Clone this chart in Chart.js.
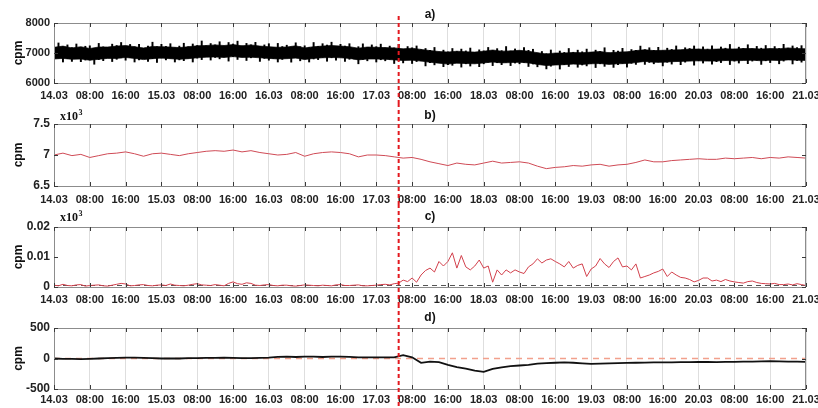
<!DOCTYPE html>
<html>
<head>
<meta charset="utf-8">
<script src="https://cdn.jsdelivr.net/npm/chart.js@4.4.0/dist/chart.umd.min.js"></script>
<style>
  html, body { margin: 0; padding: 0; background: #fff; }
  #wrap { position: relative; width: 818px; height: 408px; overflow: hidden; }
  canvas { position: absolute; left: 0; }
</style>
</head>
<body>
<div id="wrap">
  <canvas id="ca" width="818" height="103" style="top:0"></canvas>
  <canvas id="cb" width="818" height="101" style="top:103px"></canvas>
  <canvas id="cc" width="818" height="100" style="top:204px"></canvas>
  <canvas id="cd" width="818" height="104" style="top:304px"></canvas>
</div>
<script>
// time axis: hours from 14.03 00:00, one tick every 8 h
const xTickLabels = ['14.03','08:00','16:00','15.03','08:00','16:00','16.03','08:00','16:00','17.03','08:00','16:00',
                     '18.03','08:00','16:00','19.03','08:00','16:00','20.03','08:00','16:00','21.03'];
const eventHour = 77;     // red dashed marker (17.03 ~05:00)

// a) raw count rate (cpm): dense core of the trace every 2 h ...
const aCoreStep = 2;
const aCoreUpper = [7190,7230,7170,7210,7150,7200,7200,7230,7250,7210,
                    7170,7220,7210,7200,7180,7210,7240,7250,7270,7250,
                    7280,7240,7270,7230,7210,7190,7200,7240,7170,7210,
                    7230,7250,7230,7210,7160,7200,7190,7180,7170,7140,
                    7160,7120,7080,7050,7030,7060,7040,7030,7060,7100,
                    7060,7070,7090,7060,7010,6970,7000,7000,7020,7010,
                    7030,7050,7010,7030,7040,7080,7110,7080,7090,7100,
                    7110,7130,7130,7120,7130,7140,7130,7150,7150,7130,
                    7150,7140,7170,7150,7140];
const aCoreLower = [6800,6820,6790,6800,6760,6790,6820,6820,6850,6820,
                    6780,6810,6830,6810,6790,6810,6840,6860,6870,6850,
                    6880,6850,6860,6840,6820,6800,6810,6830,6780,6820,
                    6840,6850,6840,6820,6770,6800,6800,6790,6770,6750,
                    6760,6730,6690,6660,6630,6660,6650,6640,6670,6700,
                    6670,6680,6690,6670,6620,6580,6600,6610,6630,6620,
                    6640,6650,6620,6640,6650,6680,6720,6690,6690,6710,
                    6720,6730,6740,6730,6730,6750,6740,6750,6760,6740,
                    6760,6750,6770,6760,6750];
// ... and hourly min / max of the spikes
const aPeakStep = 1;
const aPeakHigh = [7210,7335,7200,7270,7180,7300,7160,7225,7240,7155,7320,7205,
                   7180,7295,7250,7350,7225,7285,7210,7290,7140,7230,7360,7210,
                   7290,7220,7310,7170,7230,7325,7210,7300,7250,7400,7240,7315,
                   7270,7375,7230,7350,7300,7395,7230,7320,7270,7355,7200,7270,
                   7310,7190,7320,7215,7260,7195,7340,7210,7240,7180,7350,7220,
                   7310,7265,7360,7215,7290,7230,7310,7155,7210,7305,7190,7270,
                   7210,7295,7170,7230,7170,7290,7120,7215,7170,7235,7110,7150,
                   7090,7185,7030,7095,7040,7150,7050,7130,7070,7165,7010,7105,
                   7070,7185,7080,7145,7080,7215,7070,7135,7060,7180,7090,7125,
                   7000,7050,6980,7100,6970,7065,7020,7150,7020,7095,7040,7130,
                   7000,7095,7050,7175,7000,7090,7060,7155,7020,7115,7090,7230,
                   7110,7175,7090,7190,7070,7160,7120,7235,7090,7175,7150,7235,
                   7130,7205,7130,7240,7110,7200,7160,7285,7130,7195,7150,7275,
                   7140,7220,7160,7250,7130,7215,7150,7290,7160,7235,7180,7245,
                   7150];
const aPeakLow = [6770,6835,6700,6810,6720,6840,6710,6765,6770,6625,6780,6745,
                  6850,6715,6790,6840,6760,6855,6700,6770,6810,6720,6810,6685,
                  6830,6770,6830,6700,6770,6745,6830,6700,6830,6780,6880,6765,
                  6850,6805,6870,6730,6880,6785,6880,6750,6840,6875,6720,6820,
                  6760,6820,6700,6785,6840,6695,6840,6740,6800,6700,6800,6780,
                  6850,6725,6840,6765,6870,6720,6790,6805,6640,6785,6740,6820,
                  6700,6775,6740,6790,6650,6750,6670,6785,6650,6715,6740,6570,
                  6680,6605,6680,6545,6610,6590,6680,6530,6640,6565,6670,6545,
                  6640,6695,6580,6675,6610,6695,6580,6665,6640,6690,6550,6635,
                  6540,6630,6470,6560,6610,6465,6610,6550,6650,6525,6600,6570,
                  6650,6515,6640,6555,6650,6520,6610,6655,6530,6655,6620,6720,
                  6620,6685,6640,6700,6570,6690,6630,6745,6610,6695,6740,6595,
                  6740,6665,6750,6630,6710,6680,6760,6615,6730,6665,6780,6645,
                  6730,6760,6620,6740,6680,6785,6640,6730,6780,6635,6750,6695,
                  6750];

// b) smoothed count rate (x10^3 cpm), every 2 h
const bStep = 2;
const bValues = [7.00,7.03,6.99,7.01,6.96,6.99,7.02,7.03,7.05,7.02,
                 6.98,7.02,7.03,7.01,6.99,7.02,7.04,7.06,7.07,7.06,
                 7.08,7.05,7.07,7.04,7.02,7.00,7.01,7.04,6.98,7.02,
                 7.04,7.05,7.04,7.02,6.97,7.00,7.00,6.99,6.97,6.95,
                 6.96,6.93,6.89,6.86,6.83,6.87,6.85,6.84,6.87,6.90,
                 6.87,6.88,6.89,6.87,6.82,6.78,6.80,6.81,6.83,6.82,
                 6.84,6.85,6.82,6.84,6.85,6.88,6.92,6.89,6.89,6.91,
                 6.92,6.93,6.94,6.93,6.93,6.95,6.94,6.95,6.96,6.94,
                 6.96,6.95,6.97,6.96,6.95];

// c) anomaly (x10^3 cpm), hourly, and its threshold
const cStep = 1;
const cValues = [0.0006,0.0004,0.0009,0.0005,0.0004,0.0007,0.0008,0.0003,0.0005,0.0006,0.0007,0.0004,
                 0.0003,0.0006,0.0009,0.0012,0.0010,0.0004,0.0005,0.0007,0.0008,0.0005,0.0004,0.0006,
                 0.0007,0.0005,0.0010,0.0006,0.0005,0.0004,0.0006,0.0009,0.0011,0.0007,0.0006,0.0005,
                 0.0008,0.0006,0.0004,0.0012,0.0017,0.0011,0.0009,0.0014,0.0012,0.0006,0.0005,0.0007,
                 0.0008,0.0005,0.0004,0.0006,0.0006,0.0004,0.0003,0.0005,0.0007,0.0006,0.0005,0.0004,
                 0.0006,0.0005,0.0004,0.0007,0.0008,0.0005,0.0005,0.0006,0.0007,0.0004,0.0004,0.0005,
                 0.0006,0.0008,0.0009,0.0007,0.0011,0.0013,0.0023,0.0018,0.0030,0.0016,0.0040,0.0055,
                 0.0063,0.0050,0.0085,0.0070,0.0085,0.0114,0.0063,0.0105,0.0067,0.0057,0.0070,0.0090,
                 0.0063,0.0070,0.0016,0.0057,0.0040,0.0057,0.0047,0.0057,0.0050,0.0045,0.0067,0.0077,
                 0.0094,0.0080,0.0090,0.0094,0.0085,0.0077,0.0067,0.0085,0.0063,0.0072,0.0077,0.0035,
                 0.0060,0.0070,0.0095,0.0077,0.0065,0.0085,0.0097,0.0067,0.0070,0.0057,0.0077,0.0030,
                 0.0035,0.0040,0.0047,0.0052,0.0060,0.0035,0.0050,0.0040,0.0032,0.0030,0.0025,0.0017,
                 0.0022,0.0030,0.0030,0.0020,0.0023,0.0018,0.0025,0.0020,0.0017,0.0015,0.0013,0.0018,
                 0.0020,0.0015,0.0012,0.0011,0.0010,0.0012,0.0008,0.0008,0.0010,0.0007,0.0011,0.0008,
                 0.0005];
const cThreshold = 0.0005;

// d) deviation from baseline (cpm), every 2 h
const dStep = 2;
const dValues = [0,-5,-5,-10,-5,0,5,10,15,15,
                 10,5,0,0,0,5,5,10,10,15,
                 10,5,5,10,15,25,30,25,30,30,
                 25,30,30,25,20,20,20,20,20,55,
                 20,-70,-50,-60,-105,-140,-165,-200,-220,-170,
                 -145,-125,-115,-105,-85,-75,-70,-65,-70,-80,
                 -88,-85,-80,-75,-72,-70,-68,-65,-62,-62,
                 -60,-58,-57,-57,-58,-55,-55,-52,-50,-48,
                 -45,-48,-50,-52,-55];
const dReference = 0;

const FONT = "'Liberation Sans', Arial, Helvetica, sans-serif";
const SERIF = "'Liberation Serif', 'Times New Roman', serif";
const xMax = (xTickLabels.length - 1) * 8;

const toPoints = (vals, step) => vals.map((v, i) => ({ x: i * step, y: v }));
const toRanges = (lo, hi, step) => lo.map((v, i) => ({ x: i * step, y: [v, hi[i]] }));
const flatLine = v => [{ x: 0, y: v }, { x: xMax, y: v }];

// frame, inward tick marks, labels and the event marker
function decor(p) {
  return {
    id: 'decor',
    afterDatasetsDraw(chart) {
      const { ctx, chartArea: { left, right, top, bottom }, scales: { x, y } } = chart;
      ctx.save();
      ctx.strokeStyle = '#8c8c8c';
      ctx.lineWidth = 1;
      ctx.strokeRect(left + 0.5, top + 0.5, right - left - 1, bottom - top);

      ctx.strokeStyle = '#3a3a3a';
      ctx.beginPath();
      x.ticks.forEach(t => {
        const px = Math.round(x.getPixelForValue(t.value)) + 0.5;
        ctx.moveTo(px, bottom); ctx.lineTo(px, bottom - 4);
        ctx.moveTo(px, top); ctx.lineTo(px, top + 4);
      });
      y.ticks.forEach(t => {
        const py = Math.round(y.getPixelForValue(t.value)) + 0.5;
        ctx.moveTo(left, py); ctx.lineTo(left + 4, py);
        ctx.moveTo(right, py); ctx.lineTo(right - 4, py);
      });
      ctx.stroke();

      // event marker
      const ex = x.getPixelForValue(eventHour);
      ctx.strokeStyle = '#e3191f';
      ctx.lineWidth = 2;
      ctx.setLineDash([4, 3]);
      ctx.beginPath();
      ctx.moveTo(ex, p.lineTop);
      ctx.lineTo(ex, chart.height);
      ctx.stroke();
      ctx.setLineDash([]);

      // panel letter
      ctx.fillStyle = '#111';
      ctx.font = 'bold 12px ' + FONT;
      ctx.textAlign = 'center';
      ctx.textBaseline = 'middle';
      ctx.fillText(p.title, 430, p.titleY);

      // y axis label
      ctx.save();
      ctx.translate(19, (top + bottom) / 2);
      ctx.rotate(-Math.PI / 2);
      ctx.font = 'bold 12px ' + FONT;
      ctx.fillText('cpm', 0, 0);
      ctx.restore();

      // x10^3 multiplier
      if (p.exp) {
        ctx.textAlign = 'left';
        ctx.textBaseline = 'alphabetic';
        ctx.font = 'bold 12px ' + SERIF;
        ctx.fillText('x10', 60, p.expY);
        const w = ctx.measureText('x10').width;
        ctx.font = 'bold 8px ' + SERIF;
        ctx.fillText('3', 60 + w + 0.5, p.expY - 5);
      }
      ctx.restore();
    }
  };
}

function makeChart(id, p) {
  return new Chart(document.getElementById(id), {
    type: 'line',
    data: { datasets: p.datasets },
    options: {
      responsive: false,
      animation: false,
      layout: { padding: { top: p.padTop, right: 12, left: 0, bottom: 0 } },
      plugins: { legend: { display: false }, tooltip: { enabled: false } },
      elements: { point: { radius: 0 }, line: { tension: 0 } },
      scales: {
        x: {
          type: 'linear', min: 0, max: xMax, offset: false,
          afterBuildTicks: s => { s.ticks = xTickLabels.map((_, i) => ({ value: i * 8 })); },
          afterFit: s => { s.height = p.xHeight; s.paddingLeft = 0; s.paddingRight = 0; },
          ticks: {
            autoSkip: false, maxRotation: 0, padding: p.xPad, color: '#222',
            font: { family: FONT, size: 11, weight: 'bold' },
            callback: (v, i) => xTickLabels[i]
          },
          grid: { color: '#dedede', drawTicks: false, offset: false },
          border: { display: false }
        },
        y: {
          min: p.yTicks[0], max: p.yTicks[p.yTicks.length - 1],
          afterBuildTicks: s => { s.ticks = p.yTicks.map(v => ({ value: v })); },
          afterFit: s => { s.width = 54; s.paddingTop = 0; s.paddingBottom = 0; },
          ticks: {
            padding: 4, color: '#222',
            font: { family: FONT, size: p.ySize, weight: 'bold' },
            callback: v => p.fmt(v)
          },
          grid: { display: false, drawTicks: false },
          border: { display: false }
        }
      }
    },
    plugins: [decor(p)]
  });
}

makeChart('ca', {
  padTop: 23, xHeight: 20, xPad: 6, ySize: 11, lineTop: 16,
  title: 'a)', titleY: 15,
  yTicks: [6000, 7000, 8000], fmt: v => String(v),
  datasets: [
    { type: 'bar', data: toRanges(aPeakLow, aPeakHigh, aPeakStep), backgroundColor: '#000',
      barThickness: 1.3, borderWidth: 0 },
    { data: toPoints(aCoreUpper, aCoreStep), borderColor: '#000', borderWidth: 0.7, backgroundColor: '#000', fill: '+1' },
    { data: toPoints(aCoreLower, aCoreStep), borderColor: '#000', borderWidth: 0.7, fill: false }
  ]
});

makeChart('cb', {
  padTop: 21, xHeight: 18, xPad: 7, ySize: 12, lineTop: 0,
  title: 'b)', titleY: 13, exp: true, expY: 17,
  yTicks: [6.5, 7, 7.5], fmt: v => String(v),
  datasets: [
    { data: toPoints(bValues, bStep), borderColor: '#cf4a55', borderWidth: 1, fill: false }
  ]
});

makeChart('cc', {
  padTop: 23, xHeight: 17, xPad: 6, ySize: 12, lineTop: 0,
  title: 'c)', titleY: 13, exp: true, expY: 17,
  yTicks: [0, 0.01, 0.02], fmt: v => (v === 0 ? '0' : v.toFixed(2)),
  datasets: [
    { data: toPoints(cValues, cStep), borderColor: '#d2404c', borderWidth: 1, fill: false },
    { data: flatLine(cThreshold), borderColor: '#555', borderWidth: 1, borderDash: [5, 4], fill: false }
  ]
});

makeChart('cd', {
  padTop: 24, xHeight: 19, xPad: 4, ySize: 12, lineTop: 0,
  title: 'd)', titleY: 14,
  yTicks: [-500, 0, 500], fmt: v => String(v),
  datasets: [
    { data: toPoints(dValues, dStep), borderColor: '#111', borderWidth: 1.8, fill: false },
    { data: flatLine(dReference), borderColor: '#f2a08c', borderWidth: 1.3, borderDash: [6, 5], fill: false }
  ]
});
</script>
</body>
</html>
